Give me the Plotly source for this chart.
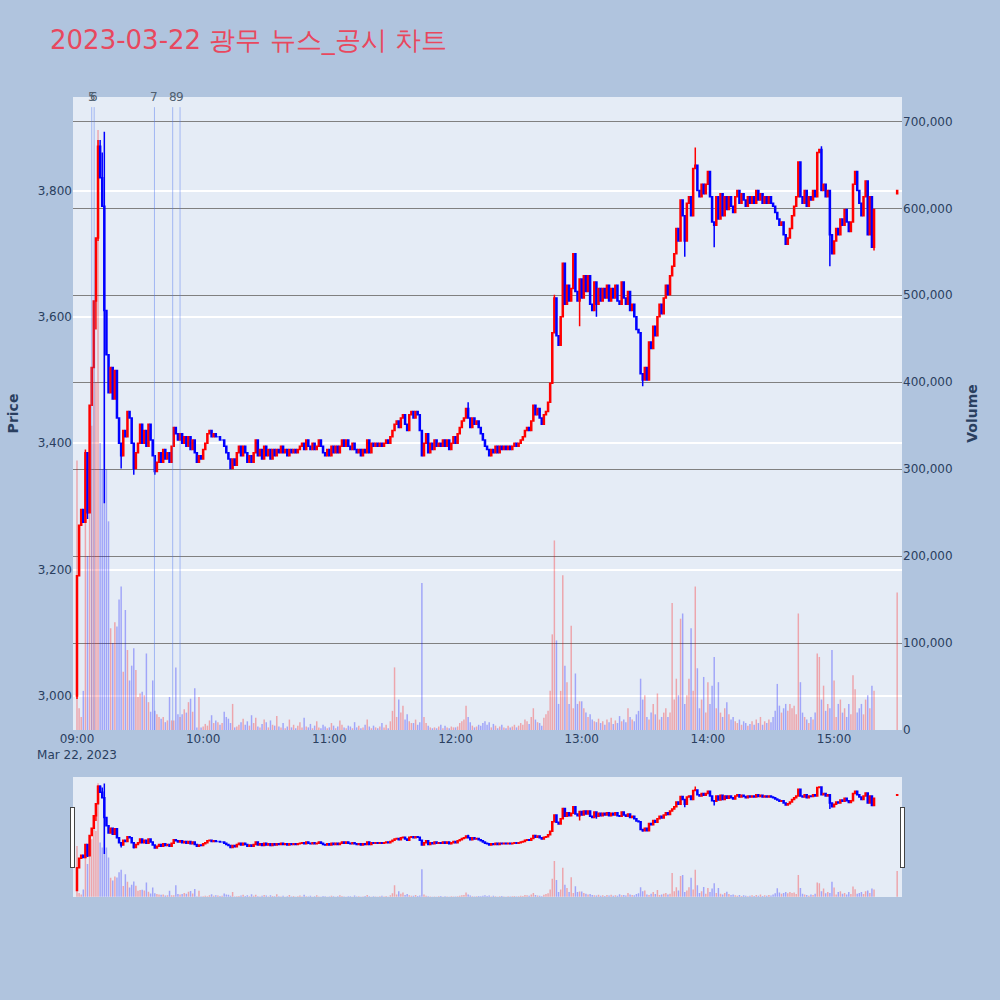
import pandas as pd
import plotly.graph_objects as go

# ---- data (1-minute bars, 2023-03-22) ----
first_open = 3000
closes = [
    3190, 3270, 3295, 3275, 3385, 3290, 3460, 3520, 3625, 3725,
    3870, 3820, 3775, 3610, 3540, 3480, 3520, 3470, 3515, 3440,
    3400, 3380, 3420, 3410, 3450, 3440, 3400, 3360, 3385, 3400,
    3430, 3400, 3420, 3395, 3430, 3405, 3380, 3355, 3370, 3385,
    3370, 3390, 3375, 3385, 3370, 3395, 3425, 3415, 3405, 3415,
    3400, 3410, 3395, 3410, 3390, 3405, 3385, 3370, 3380, 3375,
    3390, 3400, 3415, 3420, 3410, 3415, 3410, 3410, 3405, 3405,
    3395, 3385, 3375, 3360, 3375, 3365, 3385, 3395, 3380, 3395,
    3385, 3370, 3380, 3370, 3385, 3405, 3380, 3390, 3375, 3395,
    3380, 3390, 3375, 3390, 3380, 3390, 3385, 3395, 3385, 3390,
    3380, 3390, 3385, 3390, 3385, 3390, 3395, 3400, 3390, 3405,
    3395, 3390, 3400, 3390, 3395, 3405, 3395, 3385, 3380, 3390,
    3380, 3395, 3385, 3395, 3385, 3395, 3405, 3395, 3405, 3395,
    3390, 3400, 3390, 3385, 3390, 3380, 3390, 3385, 3405, 3385,
    3400, 3395, 3400, 3395, 3400, 3395, 3400, 3405, 3400, 3410,
    3420, 3430, 3435, 3425, 3440, 3445, 3430, 3420, 3445, 3450,
    3440, 3450, 3445, 3420, 3380, 3400, 3415, 3385, 3400, 3390,
    3405, 3395, 3400, 3395, 3405, 3395, 3405, 3390, 3400, 3410,
    3400, 3415, 3425, 3435, 3440, 3455, 3440, 3425, 3440, 3430,
    3435, 3425, 3415, 3405, 3395, 3390, 3380, 3390, 3385, 3395,
    3385, 3395, 3390, 3395, 3390, 3395, 3390, 3395, 3400, 3395,
    3400, 3405, 3410, 3420, 3425, 3420, 3435, 3460, 3445, 3455,
    3440, 3430, 3445, 3450, 3465, 3495, 3575, 3630, 3570, 3555,
    3600, 3685, 3620, 3650, 3625, 3645, 3700, 3640, 3625, 3660,
    3630, 3665, 3640, 3665, 3620, 3610, 3655, 3620, 3645, 3625,
    3645, 3630, 3650, 3625, 3645, 3630, 3650, 3625, 3620, 3655,
    3630, 3620, 3640, 3610, 3620, 3600, 3580, 3575, 3510, 3500,
    3520, 3500, 3560, 3550, 3585, 3570, 3600, 3620, 3605, 3630,
    3650, 3635, 3665, 3680, 3700, 3740, 3720, 3785, 3760, 3720,
    3780, 3790, 3760, 3835, 3840, 3800, 3790, 3810, 3795, 3810,
    3830, 3790, 3750, 3745, 3790, 3755, 3795, 3760, 3790, 3770,
    3790, 3775, 3765, 3790, 3800, 3780, 3795, 3785, 3775, 3790,
    3780, 3790, 3780, 3800, 3785, 3795, 3780, 3790, 3780, 3790,
    3780, 3775, 3765, 3755, 3745, 3750, 3730, 3715, 3725, 3740,
    3760, 3775, 3790, 3845, 3790, 3780, 3800, 3775, 3790, 3785,
    3800, 3790, 3860, 3865, 3800, 3810, 3790, 3800, 3730, 3700,
    3720, 3740, 3730, 3755, 3745, 3770, 3750, 3735, 3750, 3810,
    3830, 3800, 3780, 3760, 3790, 3815, 3730, 3790, 3710, 3770,
]
volumes = [
    310000, 25000, 15000, 45000, 240000, 200000, 280000, 350000, 450000, 400000,
    690000, 330000, 300000, 560000, 300000, 240000, 117000, 100000, 124000, 119000,
    150000, 165000, 67000, 138000, 92000, 57000, 74000, 94000, 69000, 38000,
    42000, 44000, 40000, 88000, 32000, 21000, 57000, 22000, 18000, 15000,
    13000, 15000, 9000, 11000, 38000, 11000, 11000, 72000, 18000, 15000,
    18000, 24000, 20000, 32000, 36000, 21000, 48000, 3000, 38000, 3000,
    4000, 7000, 5000, 11000, 17000, 8000, 11000, 9000, 6000, 8000,
    21000, 15000, 13000, 8000, 30000, 3000, 4000, 6000, 9000, 13000,
    6000, 10000, 5000, 17000, 8000, 14000, 4000, 3000, 7000, 12000,
    9000, 3000, 11000, 6000, 5000, 16000, 4000, 3000, 8000, 2000,
    4000, 12000, 3000, 6000, 2000, 5000, 9000, 3000, 14000, 4000,
    3000, 7000, 2000, 5000, 10000, 3000, 2000, 6000, 4000, 2000,
    3000, 8000, 5000, 2000, 4000, 11000, 6000, 3000, 2000, 5000,
    4000, 2000, 9000, 3000, 5000, 2000, 3000, 6000, 12000, 4000,
    2000, 5000, 3000, 2000, 4000, 8000, 3000, 6000, 2000, 10000,
    22000, 72000, 15000, 35000, 20000, 28000, 12000, 18000, 10000, 8000,
    8000, 12000, 6000, 9000, 169000, 15000, 8000, 5000, 3000, 2000,
    3000, 2000, 4000, 6000, 2000, 5000, 3000, 2000, 4000, 3000,
    3000, 4000, 8000, 10000, 12000, 28000, 15000, 9000, 5000, 3000,
    4000, 6000, 5000, 8000, 10000, 6000, 9000, 3000, 7000, 5000,
    2000, 4000, 6000, 3000, 2000, 5000, 3000, 4000, 6000, 3000,
    5000, 8000, 6000, 12000, 10000, 7000, 15000, 25000, 12000, 9000,
    8000, 5000, 14000, 18000, 22000, 45000, 110000, 218000, 103000, 30000,
    45000, 178000, 74000, 55000, 30000, 120000, 25000, 65000, 30000, 33000,
    33000, 25000, 20000, 15000, 18000, 12000, 10000, 9000, 13000, 8000,
    10000, 6000, 12000, 9000, 14000, 7000, 11000, 8000, 16000, 10000,
    12000, 9000, 25000, 15000, 12000, 10000, 18000, 22000, 59000, 35000,
    40000, 15000, 12000, 20000, 30000, 18000, 42000, 12000, 15000, 20000,
    25000, 15000, 20000, 146000, 35000, 59000, 40000, 128000, 134000, 30000,
    40000, 59000, 117000, 45000, 165000, 71000, 25000, 35000, 61000, 20000,
    55000, 30000, 51000, 84000, 25000, 55000, 20000, 15000, 25000, 32000,
    18000, 12000, 15000, 10000, 8000, 12000, 6000, 10000, 8000, 5000,
    7000, 10000, 6000, 12000, 8000, 15000, 6000, 10000, 8000, 12000,
    9000, 15000, 22000, 53000, 28000, 20000, 25000, 30000, 22000, 30000,
    25000, 28000, 18000, 134000, 55000, 20000, 15000, 12000, 8000, 15000,
    12000, 20000, 88000, 84000, 35000, 51000, 22000, 30000, 25000, 92000,
    57000, 15000, 30000, 35000, 20000, 25000, 15000, 30000, 18000, 63000,
    47000, 20000, 25000, 30000, 18000, 35000, 40000, 25000, 51000, 45000,
]
# wicks beyond the candle bodies: minute index -> (high, low)
wicks = {
    0: (3190, 2995), 4: (3390, 3275), 5: (3385, 3280), 9: (3725, 3580),
    10: (3880, 3720), 11: (3880, 3820), 12: (3860, 3775), 13: (3893, 3305),
    21: (3400, 3360), 27: (3400, 3350), 37: (3380, 3350), 186: (3465, 3440),
    227: (3635, 3575), 232: (3680, 3620), 239: (3660, 3585), 247: (3655, 3600),
    269: (3510, 3490), 289: (3760, 3695), 294: (3868, 3835), 303: (3750, 3710),
    343: (3845, 3790), 354: (3870, 3800), 358: (3800, 3680), 379: (3770, 3705),
}
# closing auction (15:30)
close_auction = dict(time="2023-03-22 15:30", open=3795, high=3800, low=3795, close=3800, volume=158000)

# news / disclosure markers
event_labels = ["5", "6", "7", "8", "9"]
event_times = ["2023-03-22 09:07:00", "2023-03-22 09:08:10", "2023-03-22 09:36:50",
               "2023-03-22 09:45:30", "2023-03-22 09:49:00"]

title_text = "2023-03-22 광무 뉴스_공시 차트"

# ---- build OHLC ----
times = list(pd.date_range("2023-03-22 09:00", periods=len(closes), freq="min"))
opens = [first_open] + closes[:-1]
highs, lows = [], []
for i, (o, c) in enumerate(zip(opens, closes)):
    if i in wicks:
        highs.append(max(wicks[i][0], o, c))
        lows.append(min(wicks[i][1], o, c))
    else:
        highs.append(max(o, c))
        lows.append(min(o, c))

times.append(pd.Timestamp(close_auction["time"]))
opens.append(close_auction["open"])
highs.append(close_auction["high"])
lows.append(close_auction["low"])
closes_all = closes + [close_auction["close"]]
vols = volumes + [close_auction["volume"]]

vol_colors = ["rgba(255,0,0,0.3)" if c >= o else "rgba(0,0,255,0.3)" for o, c in zip(opens, closes_all)]

fig = go.Figure()
fig.add_trace(go.Bar(x=times, y=vols, marker=dict(color=vol_colors, line=dict(width=0)),
                     yaxis="y", showlegend=False, name="Volume"))
fig.add_trace(go.Candlestick(x=times, open=opens, high=highs, low=lows, close=closes_all,
                             increasing=dict(line=dict(color="red", width=1.5), fillcolor="red"),
                             decreasing=dict(line=dict(color="blue", width=1.5), fillcolor="blue"),
                             yaxis="y2", showlegend=False, name="Price"))

for lab, t in zip(event_labels, event_times):
    fig.add_shape(type="line", xref="x", yref="paper", x0=t, x1=t, y0=0, y1=0.984,
                  line=dict(color="rgba(80,120,240,0.45)", width=1))
    fig.add_annotation(x=t, y=1.0, xref="x", yref="paper", text=lab, showarrow=False,
                       yanchor="middle", font=dict(size=12, color="#506070"))

x_range = ["2023-03-22 08:58:06", "2023-03-22 15:32:18"]

fig.update_layout(
    width=1000, height=1000,
    font=dict(family="DejaVu Sans"),
    paper_bgcolor="lightsteelblue",
    plot_bgcolor="#E5ECF6",
    showlegend=False,
    bargap=0.3,
    margin=dict(l=73, r=98, t=97, b=104),
    title=dict(text=title_text, x=0.05, xanchor="left", y=0.96, yanchor="middle",
               font=dict(size=26, color="#E8485E")),
    xaxis=dict(type="date", range=x_range, showgrid=False,
               rangeslider=dict(visible=True, thickness=0.15, bgcolor="#E5ECF6", range=x_range)),
    yaxis=dict(side="right", range=[0, 728000], tickformat=",", gridcolor="gray",
               title=dict(text="<b>Volume</b>", font=dict(size=14)), zeroline=False),
    yaxis2=dict(side="left", overlaying="y", range=[2946, 3948], tickformat=",",
                gridcolor="white", gridwidth=2,
                title=dict(text="<b>Price</b>", font=dict(size=14)), zeroline=False),
)

fig.write_html("out.html", config={"displayModeBar": False},
               post_script="document.body.style.margin='0';")
